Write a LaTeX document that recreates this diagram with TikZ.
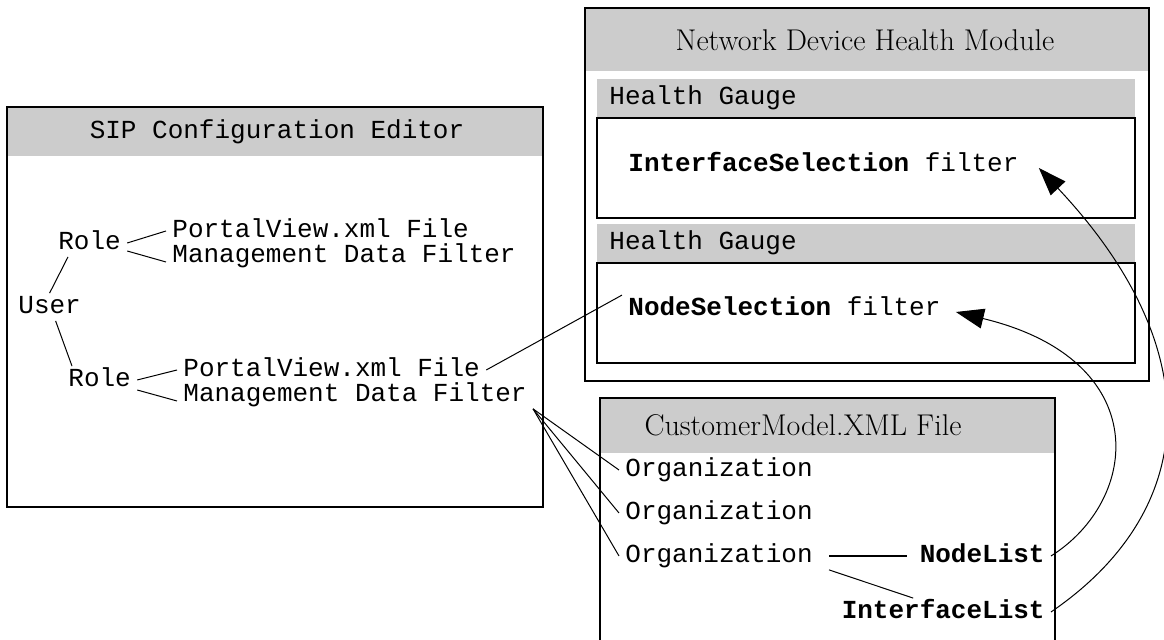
\documentclass[tikz,border=0pt]{standalone}
\usepackage{fontspec}
\setmonofont{Liberation Mono}
\usetikzlibrary{arrows.meta}

\begin{document}
\begin{tikzpicture}[x=0.5pt,y=-0.5pt,
  box/.style={draw,line width=1pt},
  head/.style={fill=black!20},
  txt/.style={font=\ttfamily\fontsize{13}{15}\selectfont,inner xsep=3pt,inner ysep=1pt,
    text height=9pt,text depth=2.5pt,anchor=west},
  ttl/.style={font=\fontsize{15}{18}\selectfont},
  link/.style={line width=0.5pt},
  feed/.style={line width=0.5pt,-{Triangle[length=14pt,width=10pt]}}]
  \useasboundingbox (0,0) rectangle (1164,640);

  \fill[head] (7,107) rectangle (543,156);
  \draw[box] (7,107) rectangle (543,507);
  \fill[head] (585,8) rectangle (1149,71);
  \draw[box] (585,8) rectangle (1149,381);
  \fill[head] (597,79) rectangle (1135,118);
  \draw[box] (597,118) rectangle (1135,218);
  \fill[head] (597,224) rectangle (1135,263);
  \draw[box] (597,263) rectangle (1135,363);
  \fill[head] (600,398) rectangle (1055,453);
  \draw[box] (600,640) -- (600,398) -- (1055,398) -- (1055,640);

  \node [txt,anchor=center] (sip) at (277,132) {SIP Configuration Editor};
  \node [ttl] (ndh) at (865,40) {Network Device Health Module};
  \node [ttl] (cm) at (803,425) {CustomerModel.XML File};
  \node [txt] (hg1) at (603,98) {Health Gauge};
  \node [txt] (hg2) at (603,243) {Health Gauge};

  \node [txt] (u) at (12,307) {User};
  \node [txt] (r1) at (52,243) {Role};
  \node [txt] (p1) at (166,231) {PortalView.xml File};
  \node [txt] (m1) at (166,256) {Management Data Filter};
  \node [txt] (r2) at (62,380) {Role};
  \node [txt] (p2) at (177,370) {PortalView.xml File};
  \node [txt] (m2) at (177,395) {Management Data Filter};

  \node [txt] (is) at (622,165) {\textbf{InterfaceSelection} filter};
  \node [txt] (ns) at (622,309) {\textbf{NodeSelection} filter};

  \node [txt] (o1) at (619,470) {Organization};
  \node [txt] (o2) at (619,513) {Organization};
  \node [txt] (o3) at (619,556) {Organization};
  \node [txt,anchor=east] (nl) at (1051,556) {\textbf{NodeList}};
  \node [txt,anchor=east] (il) at (1051,612) {\textbf{InterfaceList}};

  \draw[link] ([xshift=8pt]r1.south west) -- (u.north);
  \draw[link] ([xshift=3pt]u.south) -- ([xshift=5pt]r2.north west);
  \draw[link] (r1.east) -- (p1.west);
  \draw[link] ([yshift=-4pt]r1.east) -- ([yshift=-3pt]m1.west);
  \draw[link] (r2.east) -- (p2.west);
  \draw[link] ([yshift=-5pt]r2.east) -- ([yshift=-3pt]m2.west);
  \draw[link] (p2.east) -- (ns.north west);
  \foreach \o in {o1,o2,o3}
    \draw[link] (m2.south east) -- (\o.west);
  \draw[line width=1pt,shorten <=5pt,shorten >=3pt] (o3.east) -- (nl.west);
  \draw[link] ([xshift=5pt]o3.south east) -- ([xshift=-15pt]il.north);

  \draw[feed] (il.east) .. controls (1200,510) and (1210,350) .. ([xshift=7pt,yshift=-1.5pt]is.east);
  \draw[feed] (nl.east) .. controls (1140,500) and (1155,360) .. ([xshift=4.5pt,yshift=-1.5pt]ns.east);
\end{tikzpicture}
\end{document}
